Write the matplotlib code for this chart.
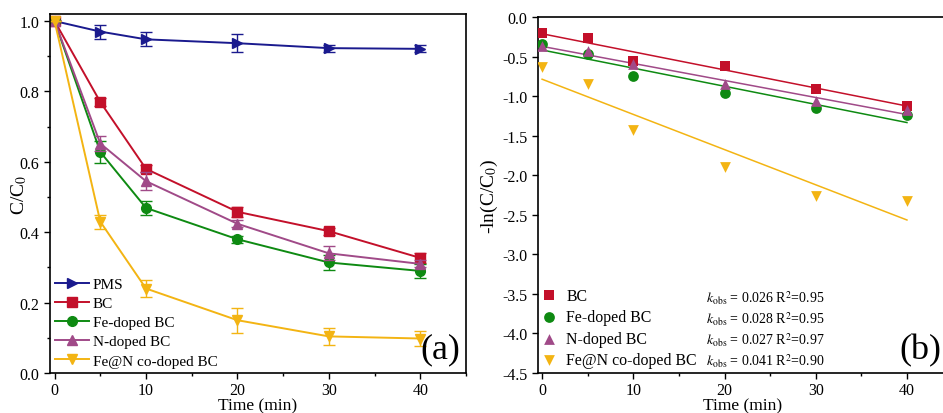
import numpy as np
import matplotlib
matplotlib.use("Agg")
import matplotlib.pyplot as plt

plt.rcParams['font.family'] = ['Liberation Serif', 'DejaVu Serif']
plt.rcParams['mathtext.fontset'] = 'stix'

time = [0, 5, 10, 20, 30, 40]

names_a = ["PMS", "BC", "Fe-doped BC", "N-doped BC", "Fe@N co-doped BC"]
pms = [1.0, 0.970, 0.948, 0.937, 0.923, 0.921]
bc = [1.0, 0.770, 0.580, 0.458, 0.403, 0.327]
fe_bc = [1.0, 0.628, 0.469, 0.380, 0.314, 0.290]
n_bc = [1.0, 0.652, 0.545, 0.424, 0.340, 0.310]
fen_bc = [1.0, 0.430, 0.240, 0.150, 0.104, 0.098]

pms_err = [0.0, 0.020, 0.020, 0.025, 0.010, 0.010]
bc_err = [0.0, 0.010, 0.010, 0.015, 0.010, 0.015]
fe_err = [0.0, 0.030, 0.020, 0.010, 0.020, 0.020]
n_err = [0.0, 0.020, 0.025, 0.010, 0.020, 0.010]
fen_err = [0.0, 0.020, 0.025, 0.035, 0.025, 0.020]

names_b = ["BC", "Fe-doped BC", "N-doped BC", "Fe@N co-doped BC"]
bc_ln = [-0.20, -0.27, -0.55, -0.62, -0.91, -1.12]
fe_ln = [-0.34, -0.47, -0.75, -0.96, -1.15, -1.24]
n_ln = [-0.37, -0.43, -0.60, -0.85, -1.06, -1.18]
fen_ln = [-0.63, -0.85, -1.43, -1.90, -2.26, -2.32]
kobs = ["0.026", "0.028", "0.027", "0.041"]
r2 = ["0.95", "0.95", "0.97", "0.90"]

c_pms = "#1a1a8e"
c_bc = "#c3102a"
c_fe = "#0e8a12"
c_n = "#a04a88"
c_fen = "#f3b413"

fig = plt.figure(figsize=(9.43, 4.14), dpi=100)
W, H = 943, 414
ax1 = fig.add_axes([50 / W, 1 - 374 / H, 416 / W, 359 / H])
ax2 = fig.add_axes([538 / W, 1 - 374 / H, 410 / W, 356 / H])

series_a = [(pms, pms_err, c_pms, ">"), (bc, bc_err, c_bc, "s"),
            (fe_bc, fe_err, c_fe, "o"), (n_bc, n_err, c_n, "^"),
            (fen_bc, fen_err, c_fen, "v")]
for (vals, err, col, mk), name in zip(series_a, names_a):
    ax1.errorbar(time, vals, yerr=err, color=col, fmt="none", capsize=4,
                 elinewidth=1.0, capthick=1.0)
    ax1.plot(time, vals, color=col, marker=mk, markersize=7, lw=1.4,
             label=name)

ax1.set_xlim(-0.5, 45)
ax1.set_ylim(0, 1.02)
ax1.set_xticks([0, 10, 20, 30, 40])
ax1.set_xticks([5, 15, 25, 35, 45], minor=True)
ax1.set_yticks([0.0, 0.2, 0.4, 0.6, 0.8, 1.0])
ax1.set_yticks([0.1, 0.3, 0.5, 0.7, 0.9], minor=True)
ax1.yaxis.set_major_formatter(matplotlib.ticker.FormatStrFormatter('%.1f'))
ax1.set_ylabel("C/C$_0$", fontsize=14, labelpad=-7)
ax1.set_xlabel("Time (min)", fontsize=12.5, labelpad=-0.5)
ax1.legend(loc="lower left", frameon=False, fontsize=11,
           handlelength=2.2, handletextpad=0.25, labelspacing=0.36,
           borderaxespad=0.15, borderpad=0.2)
ax1.text(0.985, 0.02, "(a)", transform=ax1.transAxes, ha="right", va="bottom",
         fontsize=26)

series_b = [(bc_ln, c_bc, "s"), (fe_ln, c_fe, "o"), (n_ln, c_n, "^"),
            (fen_ln, c_fen, "v")]
handles = []
for (vals, col, mk), name in zip(series_b, names_b):
    h = ax2.scatter(time, vals, color=col, marker=mk, s=60, zorder=3,
                    label=name, linewidths=0)
    handles.append(h)
    slope, inter = np.polyfit(time, vals, 1)
    xs = np.array([time[0], time[-1]])
    ax2.plot(xs, slope * xs + inter, color=col, lw=1.1, zorder=2)

ax2.set_xlim(-0.45, 44.5)
ax2.set_ylim(-4.5, 0.0)
ax2.set_xticks([0, 10, 20, 30, 40])
ax2.set_xticks([5, 15, 25, 35], minor=True)
ax2.set_yticks(np.arange(-4.5, 0.01, 0.5))
ax2.yaxis.set_major_formatter(matplotlib.ticker.FormatStrFormatter('%.1f'))
ax2.set_ylabel("-ln(C/C$_0$)", fontsize=14, labelpad=2)
ax2.set_xlabel("Time (min)", fontsize=12.5, labelpad=-0.5)
ax2.legend(handles=handles, loc="lower left", frameon=False, fontsize=11.4,
           handletextpad=0.7, labelspacing=0.35, borderaxespad=0.0,
           borderpad=0.3, handlelength=0.8, scatterpoints=1,
           bbox_to_anchor=(0.0, 0.0))
row_y = [298, 319, 340, 361]
for i, (k, r) in enumerate(zip(kobs, r2)):
    ax2.text(0.41, (374 - row_y[i]) / 356.0,
             "$k$$_{\\rm obs}$ = " + k + " R$^2$=" + r,
             transform=ax2.transAxes, ha="left", va="center", fontsize=10)
ax2.text(0.985, 0.02, "(b)", transform=ax2.transAxes, ha="right", va="bottom",
         fontsize=26)

for ax in (ax1, ax2):
    ax.tick_params(which="major", direction="out", length=4, width=1,
                   labelsize=11.5)
    ax.tick_params(which="minor", direction="out", length=2.5, width=1)
    ax.tick_params(axis="x", which="both", top=False)
    ax.tick_params(axis="x", which="major", pad=2.5)
    ax.tick_params(axis="y", which="both", right=False)
    for s in ax.spines.values():
        s.set_linewidth(1.2)

fig.savefig("out.png", dpi=100)
